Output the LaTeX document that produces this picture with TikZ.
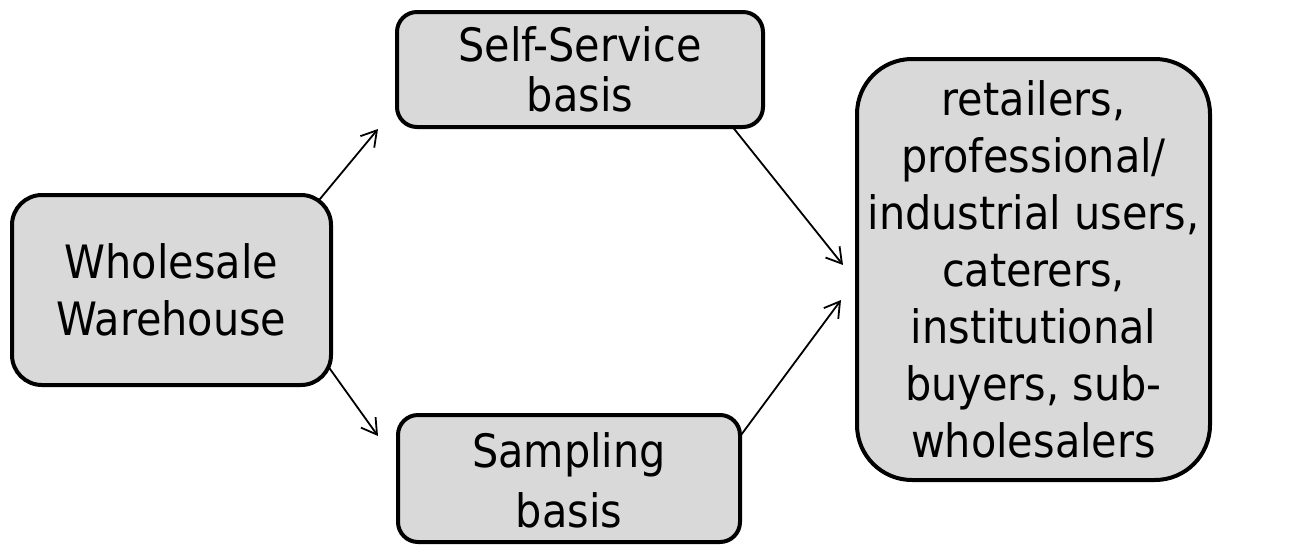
\documentclass[tikz,border=0pt]{standalone}
\usepackage{fontspec}
\setmainfont{DejaVu Sans Condensed}
\usetikzlibrary{calc,arrows.meta}
\pgfdeclarelayer{background}
\pgfsetlayers{background,main}
\definecolor{boxfill}{HTML}{D9D9D9}
\tikzset{
  box/.style={draw=black, fill=boxfill, line width=4pt, align=center,
    inner sep=0pt, text=black},
  bigtext/.style={font=\fontsize{46}{57}\selectfont},
  smalltext/.style={font=\fontsize{46}{50}\selectfont},
  widetext/.style={font=\fontsize{46}{60}\selectfont, align=center, inner sep=0pt},
  link/.style={line width=1.8pt, draw=black,
    -{Straight Barb[length=15pt,width=18pt,line width=1.8pt]}},
}
\begin{document}
\begin{tikzpicture}[x=1pt,y=1pt]
\useasboundingbox (0,0) rectangle (1303,-544);

% boxes
\node[box, bigtext, rounded corners=30pt, minimum width=319pt, minimum height=190pt]
  (ww) at (171.5,-290) {Wholesale\\Warehouse};
\node[box, smalltext, rounded corners=20pt, minimum width=366pt, minimum height=115pt]
  (ss) at (580,-69.5) {Self-Service\\basis};
\node[box, rounded corners=20pt, minimum width=342pt, minimum height=127pt]
  (sm) at (569,-478.5) {};
\node[widetext] (smlabel) at ($(sm.center)+(0,-2)$) {Sampling\\basis};
\node[box, bigtext, rounded corners=55pt, minimum width=353pt, minimum height=421pt]
  (rt) at (1033.5,-269.5) {retailers,\\professional/\\industrial users,\\caterers,\\institutional\\buyers, sub-\\wholesalers};

% connectors, kept behind the boxes
\begin{pgfonlayer}{background}
\draw[link] ($(ww.north east)+(-23,-18)$) -- ($(ss.south west)+(-17,0)$);
\draw[link] ($(ww.south east)+(-18,39)$) -- ($(sm.north west)+(-18,-23)$);
\draw[link] ($(ss.south east)+(-42,14)$) -- ($(rt.west)+(-12,4.5)$);
\draw[link] ($(sm.north east)+(-18,-45)$) -- ($(rt.west)+(-14,-30.5)$);
\end{pgfonlayer}
\end{tikzpicture}
\end{document}
